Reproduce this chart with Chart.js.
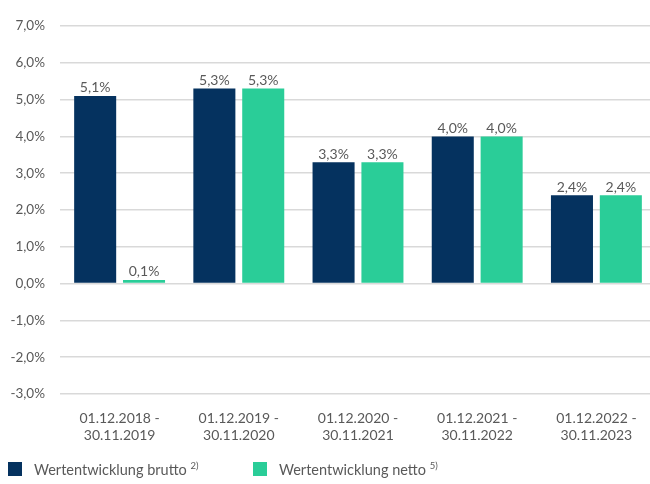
<!DOCTYPE html>
<html>
<head>
<meta charset="utf-8">
<script src="https://cdn.jsdelivr.net/npm/chart.js@4/dist/chart.umd.min.js"></script>
<style>
    body { margin: 0; background: #fff; }
    #wrap { position: relative; width: 650px; height: 484px; overflow: hidden; }
    #legende { position: absolute; left: 8px; top: 460px; font-family: Lato, sans-serif; font-size: 14.5px; color: #595959; }
    .item { position: absolute; white-space: nowrap; display: flex; align-items: center; }
    .box { width: 14px; height: 14px; margin-right: 12px; }
    sup { font-size: 9.5px; }
</style>
</head>
<body>
<div id="wrap">
    <canvas id="grafico" width="656" height="484"></canvas>
    <div id="legende"></div>
</div>
<script>
const zeitraeume = [
    ["01.12.2018 -", "30.11.2019"],
    ["01.12.2019 -", "30.11.2020"],
    ["01.12.2020 -", "30.11.2021"],
    ["01.12.2021 -", "30.11.2022"],
    ["01.12.2022 -", "30.11.2023"]
];
const brutto = [5.1, 5.3, 3.3, 4.0, 2.4];
const netto = [0.1, 5.3, 3.3, 4.0, 2.4];
const serien = ["Wertentwicklung brutto", "Wertentwicklung netto"];
const fussnoten = ["2)", "5)"];
const farben = ["#05325F", "#2ACD98"];

const fmt = (v) => v.toFixed(1).replace(".", ",") + "%";

// Werte ueber die Balken schreiben
const wertePlugin = {
    id: "werte",
    afterDatasetsDraw(chart) {
        const ctx = chart.ctx;
        ctx.save();
        ctx.font = "14px Lato, sans-serif";
        ctx.fillStyle = "#595959";
        ctx.textAlign = "center";
        ctx.textBaseline = "bottom";
        chart.data.datasets.forEach((ds, i) => {
            chart.getDatasetMeta(i).data.forEach((bar, j) => {
                ctx.fillText(fmt(ds.data[j]), bar.x, bar.y - 1);
            });
        });
        ctx.restore();
    }
};

new Chart(document.getElementById("grafico"), {
    type: "bar",
    data: {
        labels: zeitraeume,
        datasets: [
            { label: serien[0], data: brutto, backgroundColor: farben[0] },
            { label: serien[1], data: netto, backgroundColor: farben[1] }
        ]
    },
    options: {
        responsive: false,
        animation: false,
        layout: { padding: { top: 26, right: 0, bottom: 43, left: 0 } },
        categoryPercentage: 0.82,
        barPercentage: 0.86,
        plugins: {
            legend: { display: false },
            tooltip: { enabled: false }
        },
        scales: {
            x: {
                grid: { display: false },
                border: { display: false },
                ticks: { color: "#595959", font: { family: "Lato", size: 14 }, padding: 8, maxRotation: 0 },
                afterFit: (s) => { s.height = 47; }
            },
            y: {
                min: -3,
                max: 7,
                ticks: { stepSize: 1, color: "#595959", font: { family: "Lato", size: 13.5 }, padding: 15, callback: (v) => fmt(v) },
                grid: { color: "#d9d9d9", lineWidth: 1.5, drawTicks: false },
                border: { display: false },
                afterFit: (s) => { s.width = 60; }
            }
        }
    },
    plugins: [wertePlugin]
});

const legende = document.getElementById("legende");
const posX = [0, 245];
serien.forEach((name, i) => {
    const el = document.createElement("div");
    el.className = "item";
    el.style.left = posX[i] + "px";
    el.innerHTML = `<span class="box" style="background:${farben[i]}"></span><span>${name} <sup>${fussnoten[i]}</sup></span>`;
    legende.appendChild(el);
});
</script>
</body>
</html>
